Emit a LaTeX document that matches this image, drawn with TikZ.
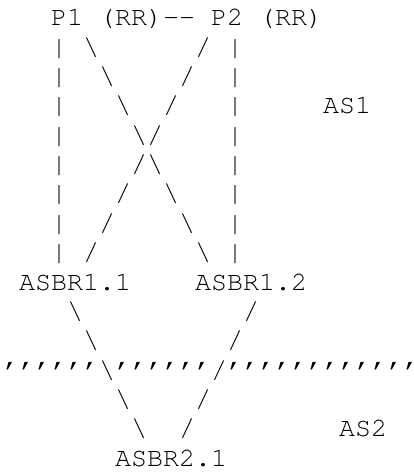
\documentclass[tikz,border=0pt]{standalone}
\usepackage[T1,TU]{fontenc}
\begin{document}
\begin{tikzpicture}[
  x=16pt, y=-29.37pt,
  art/.style={font=\fontencoding{T1}\fontfamily{pcr}\fontseries{m}\fontshape{n}\fontsize{26.67pt}{29.37pt}\selectfont,
              inner sep=0pt, outer sep=0pt, anchor=base west},
]
\useasboundingbox (0pt,0pt) rectangle (414pt,-473pt);
\begin{scope}[shift={(3pt,-25.7pt)}]
  % route reflectors
  \node[art] (p1) at (3,0) {P1 (RR)};
  \node[art] (rr) at (10,0) {-{}-};
  \node[art] (p2) at (13,0) {P2 (RR)};
  % vertical sessions P1--ASBR1.1 and P2--ASBR1.2
  \foreach \r in {1,...,8} {
    \node[art] (vl\r) at (3,\r) {|};
    \node[art] (vr\r) at (14,\r) {|};
  }
  % crossed sessions P1--ASBR1.2 and P2--ASBR1.1
  \foreach \r in {1,...,8} {
    \pgfmathtruncatemacro\ca{\r+4}
    \pgfmathtruncatemacro\cb{13-\r}
    \node[art] (da\r) at (\ca,\r) {\textbackslash};
    \node[art] (db\r) at (\cb,\r) {/};
  }
  \node[art] (as1) at (20,3) {AS1};
  % border routers of AS1
  \node[art] (asbr11) at (1,9) {ASBR1.1};
  \node[art] (asbr12) at (12,9) {ASBR1.2};
  % links down to AS2
  \foreach \r in {10,...,14} {
    \pgfmathtruncatemacro\ca{\r-6}
    \pgfmathtruncatemacro\cb{25-\r}
    \node[art] (ea\r) at (\ca,\r) {\textbackslash};
    \node[art] (eb\r) at (\cb,\r) {/};
  }
  % AS boundary
  \foreach \c in {0,...,5,7,8,...,12,14,15,...,25} {
    \node[art] (q\c) at (\c,12) {'};
  }
  \node[art] (as2) at (21,14) {AS2};
  \node[art] (asbr21) at (7,15) {ASBR2.1};
\end{scope}
\end{tikzpicture}
\end{document}
